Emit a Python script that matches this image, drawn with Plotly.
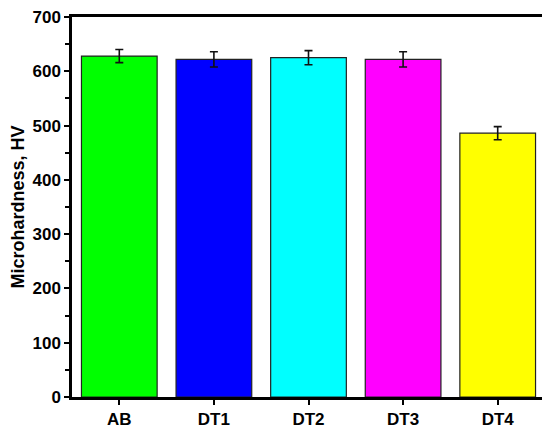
import plotly.graph_objects as go

samples = ['AB', 'DT1', 'DT2', 'DT3', 'DT4']
hardness = [628, 622, 625, 622, 486]
hardness_err = [12, 14, 13, 14, 12]
bar_colors = ['#00FF00', '#0000FF', '#00FFFF', '#FF00FF', '#FFFF00']

# the page body has an 8px margin, so the figure is a little smaller than the window
fig = go.Figure()
fig.add_trace(go.Bar(
    x=samples, y=hardness,
    marker=dict(color=bar_colors, line=dict(color='#222222', width=1.2)),
    error_y=dict(type='data', array=hardness_err, color='#111111', thickness=1.6, width=4),
))

bold = dict(family='Liberation Sans, Arial', size=17, color='black', weight='bold')
fig.update_layout(
    width=542, height=421,
    margin=dict(l=64, r=5, t=9, b=32, autoexpand=False),
    plot_bgcolor='white', paper_bgcolor='white',
    bargap=0.2, showlegend=False,
    font=bold,
    xaxis=dict(showline=True, linewidth=2.5, linecolor='black', mirror=True,
               ticks='outside', ticklen=5, tickwidth=2, tickcolor='black', tickfont=bold),
    yaxis=dict(range=[0, 700], dtick=100, showline=True, linewidth=2.5, linecolor='black', mirror=True,
               ticks='outside', ticklen=5, tickwidth=2, tickcolor='black', showgrid=False, zeroline=False,
               minor=dict(dtick=50, ticks='outside', ticklen=4, tickwidth=2, tickcolor='black'),
               tickfont=bold, ticklabeloverflow='allow',
               title=dict(text='Microhardness, HV', standoff=6,
                          font=dict(family='Liberation Sans, Arial', size=18, color='black', weight='bold'))),
)

fig.write_html("out.html")
